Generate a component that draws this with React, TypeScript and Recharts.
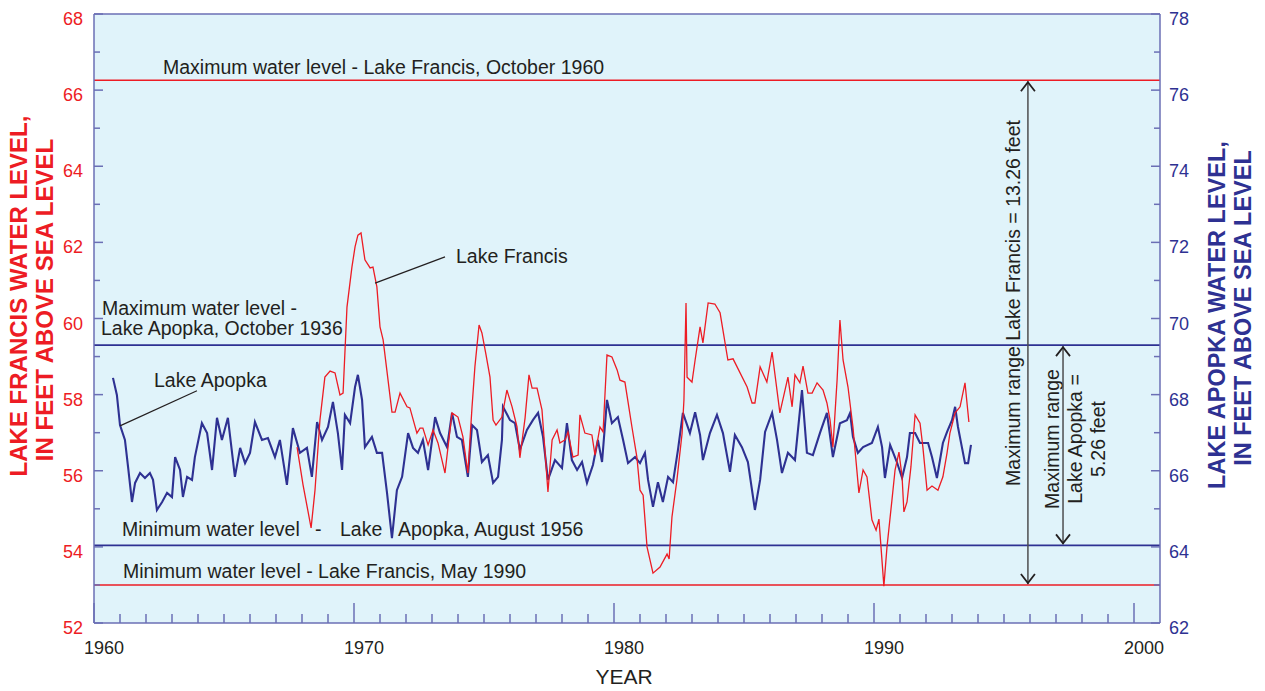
import React from 'react';
import { LineChart, Line, XAxis, YAxis, CartesianGrid, ReferenceLine } from 'recharts';

const RED = '#ed1c24';
const NAVY = '#2e3192';
const AXIS = '#6b6fb5';
const INK = '#231f20';
const BG = '#e0f3fa';
const FONT = '"Liberation Sans", Arial, Helvetica, sans-serif';

// Lake Apopka stage, [decimal year, feet above sea level] (right axis)
const apopka: [number, number][] = [
  [1960.73, 68.44], [1960.88, 67.99], [1961.0, 67.2], [1961.19, 66.81], [1961.31, 66.1], [1961.46, 65.18],
  [1961.58, 65.68], [1961.77, 65.94], [1961.96, 65.81], [1962.15, 65.94], [1962.27, 65.76], [1962.42, 64.97],
  [1962.62, 65.18], [1962.81, 65.42], [1963.0, 65.31], [1963.12, 66.36], [1963.31, 66.02], [1963.42, 65.31],
  [1963.58, 65.84], [1963.77, 65.76], [1963.88, 66.36], [1964.15, 67.25], [1964.35, 66.99], [1964.54, 66.02],
  [1964.73, 67.39], [1964.92, 66.81], [1965.15, 67.39], [1965.42, 65.84], [1965.62, 66.6], [1965.81, 66.2],
  [1966.0, 66.47], [1966.19, 67.28], [1966.46, 66.81], [1966.69, 66.86], [1966.96, 66.36], [1967.15, 66.81],
  [1967.42, 65.63], [1967.65, 67.12], [1967.92, 66.47], [1968.19, 66.6], [1968.38, 65.84], [1968.58, 67.28],
  [1968.77, 66.81], [1969.0, 67.15], [1969.19, 67.81], [1969.38, 66.99], [1969.54, 66.02], [1969.65, 67.47],
  [1969.85, 67.25], [1970.04, 68.2], [1970.15, 68.52], [1970.31, 67.86], [1970.42, 66.62], [1970.69, 66.89],
  [1970.88, 66.47], [1971.08, 66.47], [1971.27, 65.42], [1971.46, 64.23], [1971.65, 65.49], [1971.85, 65.84],
  [1972.08, 66.99], [1972.27, 66.6], [1972.46, 66.47], [1972.65, 66.81], [1972.85, 66.02], [1973.12, 67.41],
  [1973.31, 66.99], [1973.58, 66.62], [1973.77, 67.52], [1973.96, 66.89], [1974.15, 66.81], [1974.38, 65.84],
  [1974.54, 67.2], [1974.73, 67.07], [1974.92, 66.23], [1975.15, 66.41], [1975.35, 65.68], [1975.54, 65.84],
  [1975.69, 66.81], [1975.73, 67.68], [1976.0, 67.33], [1976.19, 67.25], [1976.38, 66.55], [1976.65, 67.07],
  [1976.88, 67.33], [1977.08, 67.52], [1977.27, 66.89], [1977.46, 65.76], [1977.73, 66.28], [1978.0, 66.07],
  [1978.19, 67.25], [1978.38, 66.28], [1978.58, 66.02], [1978.77, 66.23], [1978.96, 65.68], [1979.19, 66.15],
  [1979.38, 66.81], [1979.54, 66.23], [1979.73, 67.86], [1979.92, 67.25], [1980.15, 67.41], [1980.35, 66.81],
  [1980.54, 66.2], [1980.81, 66.36], [1981.0, 66.2], [1981.19, 66.47], [1981.31, 65.76], [1981.5, 65.05],
  [1981.69, 65.7], [1981.88, 65.18], [1982.08, 65.84], [1982.27, 65.7], [1982.46, 66.55], [1982.65, 67.52],
  [1982.92, 66.99], [1983.12, 67.54], [1983.31, 66.94], [1983.42, 66.28], [1983.69, 66.99], [1983.96, 67.47],
  [1984.19, 66.99], [1984.46, 65.97], [1984.65, 66.94], [1984.92, 66.62], [1985.15, 66.23], [1985.42, 64.97],
  [1985.62, 65.76], [1985.81, 67.02], [1986.08, 67.52], [1986.27, 66.81], [1986.46, 65.94], [1986.69, 66.47],
  [1986.96, 66.28], [1987.23, 68.12], [1987.42, 66.47], [1987.65, 66.41], [1987.92, 66.99], [1988.19, 67.52],
  [1988.42, 66.36], [1988.69, 67.25], [1988.96, 67.33], [1989.08, 67.52], [1989.19, 66.89], [1989.38, 66.47],
  [1989.58, 66.62], [1989.92, 66.73], [1990.15, 67.15], [1990.31, 66.62], [1990.42, 65.81], [1990.62, 66.68],
  [1990.88, 66.23], [1991.08, 65.81], [1991.27, 66.36], [1991.38, 66.99], [1991.58, 66.99], [1991.77, 66.73],
  [1992.08, 66.73], [1992.23, 66.36], [1992.42, 65.81], [1992.65, 66.73], [1992.81, 67.02], [1993.0, 67.33],
  [1993.12, 67.68], [1993.23, 67.15], [1993.38, 66.62], [1993.5, 66.2], [1993.62, 66.2], [1993.73, 66.68],
];

// Lake Francis stage, [decimal year, feet above sea level] (left axis)
const francis: [number, number][] = [
  [1967.81, 56.62], [1968.04, 55.63], [1968.35, 54.5], [1968.5, 55.49], [1968.69, 57.33], [1968.88, 58.46],
  [1969.08, 58.62], [1969.27, 58.57], [1969.46, 57.99], [1969.58, 58.04], [1969.73, 60.3], [1969.92, 61.35],
  [1970.04, 61.88], [1970.15, 62.19], [1970.27, 62.25], [1970.42, 61.54], [1970.62, 61.33], [1970.73, 61.35],
  [1970.88, 60.83], [1971.0, 59.78], [1971.12, 59.44], [1971.46, 57.54], [1971.58, 57.54], [1971.77, 58.04],
  [1972.04, 57.68], [1972.15, 57.65], [1972.42, 56.99], [1972.54, 57.12], [1972.65, 57.12], [1972.85, 56.68],
  [1973.04, 57.07], [1973.23, 56.73], [1973.5, 55.94], [1973.77, 57.52], [1974.0, 57.41], [1974.19, 56.89],
  [1974.38, 55.94], [1974.54, 57.68], [1974.65, 58.73], [1974.81, 59.83], [1974.92, 59.62], [1975.08, 59.04],
  [1975.23, 58.46], [1975.35, 57.33], [1975.46, 57.2], [1975.69, 57.41], [1975.88, 58.12], [1976.08, 57.68],
  [1976.27, 57.15], [1976.38, 56.34], [1976.58, 57.39], [1976.73, 58.52], [1976.85, 58.17], [1977.04, 58.17],
  [1977.23, 57.6], [1977.46, 55.44], [1977.62, 56.81], [1977.81, 57.07], [1977.92, 56.73], [1978.12, 56.81],
  [1978.23, 57.02], [1978.42, 56.36], [1978.62, 56.41], [1978.69, 57.47], [1978.88, 56.99], [1979.15, 56.94],
  [1979.27, 56.41], [1979.46, 57.15], [1979.58, 57.02], [1979.73, 59.04], [1979.92, 58.99], [1980.12, 58.65],
  [1980.23, 58.38], [1980.42, 58.33], [1980.69, 57.15], [1980.88, 56.36], [1981.0, 55.49], [1981.12, 55.36],
  [1981.27, 54.0], [1981.5, 53.31], [1981.77, 53.47], [1982.04, 53.81], [1982.12, 53.68], [1982.23, 54.79],
  [1982.42, 55.76], [1982.62, 56.99], [1982.69, 57.86], [1982.77, 60.41], [1982.81, 58.46], [1983.0, 58.33],
  [1983.12, 58.91], [1983.31, 59.78], [1983.42, 59.36], [1983.62, 60.41], [1983.88, 60.38], [1984.08, 60.15],
  [1984.38, 58.91], [1984.58, 58.94], [1985.12, 58.2], [1985.31, 57.78], [1985.42, 57.78], [1985.62, 58.73],
  [1985.88, 58.33], [1986.08, 59.12], [1986.38, 57.52], [1986.69, 58.46], [1986.85, 57.68], [1986.96, 58.52],
  [1987.15, 58.31], [1987.27, 58.75], [1987.46, 58.04], [1987.62, 58.04], [1987.81, 58.31], [1988.04, 58.12],
  [1988.19, 57.78], [1988.31, 57.33], [1988.42, 56.62], [1988.58, 58.38], [1988.69, 59.96], [1988.81, 58.91],
  [1989.0, 58.2], [1989.19, 57.15], [1989.42, 55.42], [1989.58, 56.02], [1989.73, 55.84], [1989.92, 54.71],
  [1990.08, 54.44], [1990.19, 54.73], [1990.38, 52.97], [1990.5, 54.0], [1990.69, 55.23], [1990.81, 56.02],
  [1990.96, 56.49], [1991.08, 55.84], [1991.15, 54.92], [1991.27, 55.18], [1991.42, 56.1], [1991.58, 57.47],
  [1991.77, 57.25], [1991.88, 56.62], [1992.04, 55.49], [1992.23, 55.6], [1992.46, 55.49], [1992.65, 55.84],
  [1992.81, 56.47], [1992.92, 56.99], [1993.12, 57.52], [1993.31, 57.68], [1993.5, 58.31], [1993.65, 57.28],
];

// record levels
const francisMax = 66.26;
const francisMin = 53.0;
const apopkaMax = 69.3;
const apopkaMin = 64.04;

const leftTicks = [52, 53, 54, 55, 56, 57, 58, 59, 60, 61, 62, 63, 64, 65, 66, 67, 68];
const rightTicks = [62, 63, 64, 65, 66, 67, 68, 69, 70, 71, 72, 73, 74, 75, 76, 77, 78];
const yearTicks = Array.from({ length: 41 }, (_, i) => 1960 + i);
const yearLabels = [1960, 1970, 1980, 1990, 2000];

const apopkaData = apopka.map(([year, level]) => ({ year, level }));
const francisData = francis.map(([year, level]) => ({ year, level }));

const BottomTick = ({ x, y, payload }: any) => {
  const v = payload.value;
  const major = v % 10 === 0;
  return (
    <g>
      <line x1={x} x2={x} y1={y} y2={y - (major ? 20 : 9)} stroke={AXIS} strokeWidth={1.5} />
      {yearLabels.includes(v) && (
        <text x={x + 10} y={y + 31} textAnchor="middle" fontSize={18} fill={INK}>{v}</text>
      )}
    </g>
  );
};

const TopTick = ({ x, y }: any) => (
  <line x1={x} x2={x} y1={y} y2={y + 9} stroke={AXIS} strokeWidth={1.5} />
);

const LeftTick = ({ x, y, payload }: any) => {
  const v = payload.value;
  const major = v % 2 === 0;
  return (
    <g>
      <line x1={x} x2={x + (major ? 9 : 6)} y1={y} y2={y} stroke={AXIS} strokeWidth={1.5} />
      {major && (
        <text x={x - 11} y={y + 11} textAnchor="end" fontSize={18} fill={RED}>{v}</text>
      )}
    </g>
  );
};

const RightTick = ({ x, y, payload }: any) => {
  const v = payload.value;
  const major = v % 2 === 0;
  return (
    <g>
      <line x1={x} x2={x - (major ? 9 : 6)} y1={y} y2={y} stroke={AXIS} strokeWidth={1.5} />
      {major && (
        <text x={x + 9} y={y + 11} textAnchor="start" fontSize={18} fill={NAVY}>{v}</text>
      )}
    </g>
  );
};

// double headed arrow drawn on a vertical segment
const RangeArrow = (p: any) => {
  const { x1, y1, y2 } = p;
  const top = Math.min(y1, y2);
  const bot = Math.max(y1, y2);
  return (
    <g stroke={INK} strokeWidth={1.8} fill="none">
      <line x1={x1} x2={x1} y1={top + 1} y2={bot - 1} strokeWidth={1.5} stroke="#4d4d4f" />
      <polyline points={`${x1 - 7},${top + 11} ${x1},${top + 2} ${x1 + 7},${top + 11}`} />
      <polyline points={`${x1 - 7},${bot - 11} ${x1},${bot - 2} ${x1 + 7},${bot - 11}`} />
    </g>
  );
};

const note = { fontSize: 19.5, fill: INK };

export default function App() {
  return (
    <div style={{ position: 'absolute', left: 0, top: 0 }}>
      <LineChart
        width={1265}
        height={691}
        margin={{ top: 0, right: 0, bottom: 38, left: 0 }}
        style={{ fontFamily: FONT }}
      >
        <CartesianGrid xAxisId="b" yAxisId="l" horizontal={false} vertical={false} fill={BG} />
        <XAxis
          xAxisId="b" type="number" dataKey="year" domain={[1960, 2001]} ticks={yearTicks} interval={0}
          tick={(p: any) => <BottomTick {...p} />} tickLine={false} tickSize={0} tickMargin={0}
          axisLine={{ stroke: AXIS, strokeWidth: 1.5 }} height={30}
        />
        <XAxis
          xAxisId="t" orientation="top" type="number" dataKey="year" domain={[1960, 2001]} ticks={yearTicks}
          interval={0} tick={(p: any) => <TopTick {...p} />} tickLine={false} tickSize={0} tickMargin={0}
          axisLine={{ stroke: AXIS, strokeWidth: 1.5 }} height={14}
        />
        <YAxis
          yAxisId="l" type="number" domain={[52, 68]} ticks={leftTicks} interval={0}
          tick={(p: any) => <LeftTick {...p} />} tickLine={false} tickSize={0} tickMargin={0}
          axisLine={{ stroke: AXIS, strokeWidth: 1.5 }} width={94}
        />
        <YAxis
          yAxisId="r" orientation="right" type="number" domain={[62, 78]} ticks={rightTicks} interval={0}
          tick={(p: any) => <RightTick {...p} />} tickLine={false} tickSize={0} tickMargin={0}
          axisLine={{ stroke: AXIS, strokeWidth: 1.5 }} width={105}
        />

        <ReferenceLine xAxisId="b" yAxisId="l" y={francisMax} stroke={RED} strokeWidth={1.6} />
        <ReferenceLine xAxisId="b" yAxisId="l" y={francisMin} stroke={RED} strokeWidth={1.6} />
        <ReferenceLine xAxisId="b" yAxisId="r" y={apopkaMax} stroke={NAVY} strokeWidth={1.6} />
        <ReferenceLine xAxisId="b" yAxisId="r" y={apopkaMin} stroke={NAVY} strokeWidth={1.6} />

        <Line
          xAxisId="b" yAxisId="r" data={apopkaData} dataKey="level" type="linear" stroke={NAVY}
          strokeWidth={2.1} dot={false} activeDot={false} isAnimationActive={false}
        />
        <Line
          xAxisId="b" yAxisId="l" data={francisData} dataKey="level" type="linear" stroke={RED}
          strokeWidth={1.3} dot={false} activeDot={false} isAnimationActive={false}
        />

        {/* leader lines */}
        <ReferenceLine xAxisId="b" yAxisId="l" segment={[{ x: 1970.81, y: 60.93 }, { x: 1973.5, y: 61.62 }]} stroke={INK} strokeWidth={1.2} />
        <ReferenceLine xAxisId="b" yAxisId="r" segment={[{ x: 1961.0, y: 67.18 }, { x: 1963.96, y: 68.1 }]} stroke={INK} strokeWidth={1.2} />

        {/* range arrows */}
        <ReferenceLine xAxisId="b" yAxisId="l" segment={[{ x: 1995.92, y: francisMax }, { x: 1995.92, y: francisMin }]} shape={(p: any) => <RangeArrow {...p} />} />
        <ReferenceLine xAxisId="b" yAxisId="r" segment={[{ x: 1997.27, y: apopkaMax }, { x: 1997.27, y: apopkaMin }]} shape={(p: any) => <RangeArrow {...p} />} />

        <text x={163} y={74} {...note}>Maximum water level - Lake Francis, October 1960</text>
        <text x={102} y={315} {...note}>Maximum water level -</text>
        <text x={101} y={335} {...note}>Lake Apopka, October 1936</text>
        <text x={456} y={263} {...note}>Lake Francis</text>
        <text x={154} y={387} {...note}>Lake Apopka</text>
        <text x={122} y={536} {...note}>Minimum water level</text>
        <text x={315} y={536} {...note}>-</text>
        <text x={340} y={536} {...note}>Lake</text>
        <text x={398} y={536} {...note}>Apopka, August 1956</text>
        <text x={123} y={578} {...note}>Minimum water level - Lake Francis, May 1990</text>

        <text
          x={1013} y={303} dy="0.35em" textAnchor="middle" transform="rotate(-90 1013 303)"
          {...note} stroke={BG} strokeWidth={6} paintOrder="stroke"
        >
          Maximum range Lake Francis = 13.26 feet
        </text>
        <g textAnchor="middle" {...note}>
          <text x={1052} y={439} dy="0.35em" transform="rotate(-90 1052 439)">Maximum range</text>
          <text x={1075} y={439} dy="0.35em" transform="rotate(-90 1075 439)">Lake Apopka =</text>
          <text x={1098} y={439} dy="0.35em" transform="rotate(-90 1098 439)">5.26 feet</text>
        </g>

        {/* axis titles */}
        <g fontWeight="bold" fontSize={24} textAnchor="middle" fill={RED}>
          <text x={19} y={296} dy="0.35em" transform="rotate(-90 19 296)">LAKE FRANCIS WATER LEVEL,</text>
          <text x={45} y={300} dy="0.35em" transform="rotate(-90 45 300)">IN FEET ABOVE SEA LEVEL</text>
        </g>
        <g fontWeight="bold" fontSize={23.5} textAnchor="middle" fill={NAVY}>
          <text x={1217} y={315} dy="0.35em" transform="rotate(-90 1217 315)">LAKE APOPKA WATER LEVEL,</text>
          <text x={1243} y={308} dy="0.35em" transform="rotate(-90 1243 308)">IN FEET ABOVE SEA LEVEL</text>
        </g>
        <text x={624} y={684} textAnchor="middle" fontSize={21} fill={INK}>YEAR</text>
      </LineChart>
    </div>
  );
}
